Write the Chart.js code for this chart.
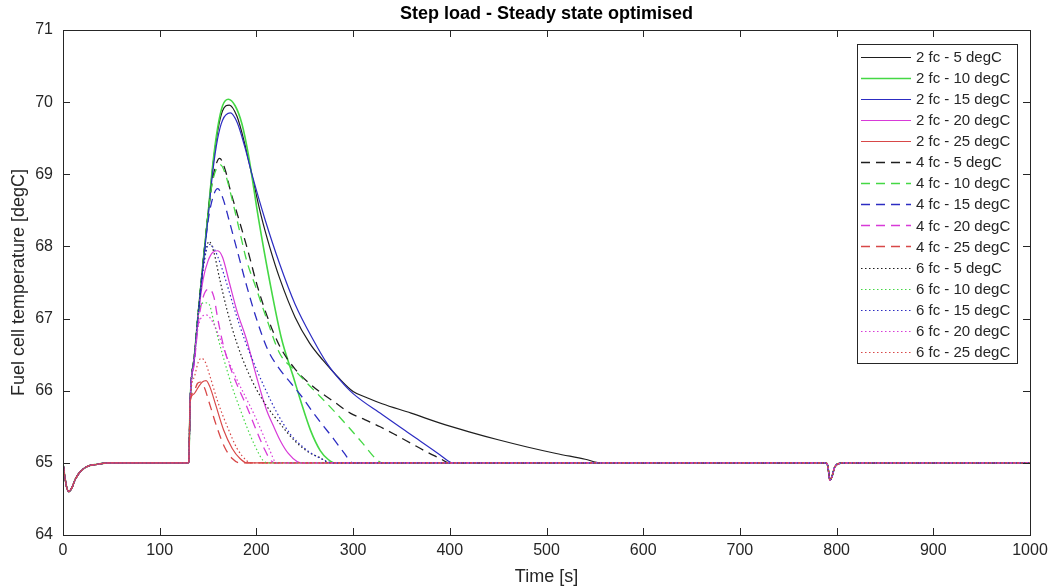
<!DOCTYPE html>
<html>
<head>
<meta charset="utf-8">
<script src="https://cdn.jsdelivr.net/npm/chart.js@4.4.1/dist/chart.umd.min.js"></script>
<style>
  html, body { margin: 0; padding: 0; background: #fff; }
  #wrap { width: 1055px; height: 588px; }
</style>
</head>
<body>
<div id="wrap"><canvas id="temp-chart" width="1055" height="588"></canvas></div>
<script>
// time [s], temperature [degC] pairs
// shared start (initial dip) and shared end (dip at ~790 s)
const headPart = [[0,65],[2,64.8],[4,64.65],[6,64.6],[9,64.65],[13,64.78],[18,64.88],[25,64.95],[35,64.98],[50,65],[130,65]]
const tailPart = [[789,65],[791,64.95],[793,64.76],[795,64.8],[798,64.94],[802,64.99],[810,65],[1000,65]]

// 2 fuel cells
const fc2_5 = [[131.5,65.85],[136,66.5],[140,67.1],[145,67.8],[150,68.45],[155,69.12],[160,69.6],[165,69.88],[172,69.96],[180,69.8],[188,69.42],[196,68.95],[205,68.42],[214,67.98],[224,67.56],[240,67.02],[255,66.66],[269,66.42],[285,66.18],[300,65.99],[315,65.9],[330,65.82],[360,65.69],[390,65.55],[420,65.43],[450,65.32],[480,65.22],[510,65.13],[540,65.05],[556,65]]
const fc2_10 = [[131.5,65.85],[136,66.5],[140,67.1],[145,67.8],[150,68.45],[155,69.15],[160,69.65],[165,69.95],[171,70.04],[178,69.95],[185,69.7],[192,69.25],[202,68.4],[214,67.5],[226,66.72],[238,66.2],[246,65.85],[256,65.45],[266,65.17],[274,65.05],[281,65]]
const fc2_15 = [[131.5,65.85],[136,66.45],[140,67.05],[145,67.75],[150,68.4],[155,69.05],[160,69.5],[165,69.75],[173,69.85],[180,69.72],[188,69.38],[196,68.97],[209,68.37],[224,67.76],[240,67.2],[259,66.7],[273,66.38],[287,66.14],[300,65.96],[330,65.67],[360,65.39],[390,65.11],[398,65.03],[403,65]]
const fc2_20 = [[131.5,65.85],[136,66.5],[140,67.05],[145,67.55],[150,67.8],[155,67.92],[160,67.94],[165,67.85],[172,67.5],[180,67.1],[190,66.7],[200,66.2],[210,65.75],[218,65.5],[225,65.3],[233,65.13],[242,65.02],[248,65]]
const fc2_25 = [[131.5,65.85],[135,65.95],[140,66.05],[144,66.12],[148,66.14],[152,66.05],[158,65.8],[166,65.46],[175,65.2],[183,65.06],[190,65]]

// 4 fuel cells
const fc4_5 = [[131.5,65.85],[136,66.5],[140,67.1],[145,67.8],[150,68.45],[155,68.95],[162,69.22],[168,69.05],[173,68.78],[182,68.37],[191,67.95],[201,67.45],[212,67],[224,66.62],[240,66.3],[255,66.1],[266,65.98],[280,65.85],[297,65.69],[312,65.6],[328,65.5],[345,65.38],[360,65.27],[375,65.16],[390,65.06],[399,65]]
const fc4_10 = [[131.5,65.85],[136,66.5],[140,67.1],[145,67.8],[150,68.45],[155,68.92],[163,69.13],[168,69],[174,68.7],[182,68.25],[190,67.8],[199,67.45],[210,67.02],[224,66.52],[240,66.28],[260,66],[276,65.78],[295,65.5],[310,65.27],[324,65.05],[330,65]]
const fc4_15 = [[131.5,65.85],[136,66.45],[140,67.05],[145,67.75],[150,68.35],[155,68.68],[160,68.8],[165,68.68],[172,68.35],[180,67.95],[190,67.45],[200,67],[212,66.56],[224,66.3],[236,66.1],[248,65.9],[259,65.69],[270,65.5],[280,65.33],[290,65.15],[300,65]]
const fc4_20 = [[131.5,65.85],[136,66.4],[140,66.95],[145,67.3],[151,67.41],[156,67.3],[160,67],[166,66.62],[175,66.25],[182,66.02],[190,65.78],[200,65.45],[208,65.2],[214,65.05],[219,65]]
const fc4_25 = [[131.5,65.85],[135,65.98],[139,66.1],[142,66.12],[146,66.05],[152,65.8],[159,65.5],[167,65.22],[175,65.06],[183,65]]

// 6 fuel cells
const fc6_5 = [[131.5,65.85],[136,66.5],[140,67.1],[145,67.7],[151,68.07],[156,67.92],[162,67.55],[170,67.1],[180,66.65],[190,66.3],[200,66.02],[210,65.8],[224,65.55],[240,65.3],[255,65.14],[266,65.07],[276,65]]
const fc6_10 = [[131.5,65.85],[136,66.5],[140,67.05],[146,67.22],[151,67.2],[156,66.95],[165,66.5],[175,66.05],[183,65.75],[190,65.5],[198,65.25],[207,65.03],[212,65]]
const fc6_15 = [[131.5,65.85],[136,66.5],[140,67.1],[145,67.7],[151,68.03],[157,67.95],[163,67.75],[169,67.5],[178,67.1],[188,66.7],[200,66.3],[210,66],[221,65.7],[235,65.4],[250,65.2],[265,65.07],[280,65]]
const fc6_20 = [[131.5,65.85],[136,66.45],[140,66.9],[148,67.05],[155,66.95],[160,66.8],[170,66.45],[180,66.15],[190,65.88],[197,65.69],[205,65.45],[213,65.2],[221,65]]
const fc6_25 = [[131.5,65.85],[136,66.2],[140,66.4],[143,66.45],[147,66.4],[152,66.2],[160,65.85],[170,65.5],[180,65.2],[190,65.03],[195,65]]

const seriesNames = ['2 fc - 5 degC','2 fc - 10 degC','2 fc - 15 degC','2 fc - 20 degC','2 fc - 25 degC',
  '4 fc - 5 degC','4 fc - 10 degC','4 fc - 15 degC','4 fc - 20 degC','4 fc - 25 degC',
  '6 fc - 5 degC','6 fc - 10 degC','6 fc - 15 degC','6 fc - 20 degC','6 fc - 25 degC']
const seriesValues = [fc2_5, fc2_10, fc2_15, fc2_20, fc2_25, fc4_5, fc4_10, fc4_15, fc4_20, fc4_25, fc6_5, fc6_10, fc6_15, fc6_20, fc6_25]

const xTicks = [0,100,200,300,400,500,600,700,800,900,1000]
const yTicks = [64,65,66,67,68,69,70,71]

// styling
const colours = ['#1e1e1e', '#44d844', '#2c2cc2', '#d83ad8', '#d84848']
const dashes = [[], [9, 6], [1.5, 2.5]]
const widths = [1.2, 1.3, 1.2]

let datasets = []
for (let i = 0; i < seriesValues.length; i++) {
  let grp = Math.floor(i / 5)
  let pts = headPart.concat(seriesValues[i], tailPart)
  datasets.push({
    label: seriesNames[i],
    data: pts.map(p => ({x: p[0], y: p[1]})),
    borderColor: colours[i % 5],
    borderDash: dashes[grp],
    borderWidth: (i == 1) ? 1.6 : widths[grp],
    pointRadius: 0,
    cubicInterpolationMode: 'monotone',
    fill: false,
    order: seriesValues.length - i
  })
}

const axisCol = '#262626'
const fontName = '"Liberation Sans", Arial, Helvetica, sans-serif'

// title over the axes, box round the axes, inward ticks, legend box top right
const matlabLook = {
  id: 'matlabLook',
  afterDatasetsDraw(chart) {
    const ctx = chart.ctx
    const a = chart.chartArea
    const xs = chart.scales.x, ys = chart.scales.y
    ctx.save()
    ctx.fillStyle = '#000'
    ctx.font = 'bold 18px ' + fontName
    ctx.textAlign = 'center'
    ctx.textBaseline = 'middle'
    ctx.fillText('Step load - Steady state optimised', (a.left + a.right) / 2, 14)

    ctx.strokeStyle = axisCol
    ctx.lineWidth = 1
    ctx.setLineDash([])
    ctx.strokeRect(Math.round(a.left) + 0.5, Math.round(a.top) + 0.5, Math.round(a.right - a.left), Math.round(a.bottom - a.top))
    let tl = 7
    ctx.beginPath()
    xTicks.forEach(t => {
      let px = Math.round(xs.getPixelForValue(t)) + 0.5
      ctx.moveTo(px, a.bottom); ctx.lineTo(px, a.bottom - tl)
      ctx.moveTo(px, a.top); ctx.lineTo(px, a.top + tl)
    })
    yTicks.forEach(t => {
      let py = Math.round(ys.getPixelForValue(t)) + 0.5
      ctx.moveTo(a.left, py); ctx.lineTo(a.left + tl, py)
      ctx.moveTo(a.right, py); ctx.lineTo(a.right - tl, py)
    })
    ctx.stroke()

    // legend
    let bx = 857, by = 44, bw = 160, bh = 319
    ctx.fillStyle = '#fff'
    ctx.fillRect(bx, by, bw, bh)
    ctx.strokeStyle = axisCol
    ctx.strokeRect(bx + 0.5, by + 0.5, bw, bh)
    ctx.font = '15px ' + fontName
    ctx.textBaseline = 'middle'
    ctx.textAlign = 'left'
    chart.data.datasets.forEach((ds, i) => {
      let y = 57 + i * 21.05
      ctx.strokeStyle = ds.borderColor
      ctx.lineWidth = ds.borderWidth
      ctx.setLineDash(ds.borderDash)
      ctx.beginPath()
      ctx.moveTo(861, Math.round(y) + 0.5)
      ctx.lineTo(911, Math.round(y) + 0.5)
      ctx.stroke()
      ctx.setLineDash([])
      ctx.fillStyle = axisCol
      ctx.fillText(ds.label, 916, y + 1)
    })
    ctx.restore()
  }
}

new Chart(document.getElementById('temp-chart'), {
  type: 'line',
  data: { datasets: datasets },
  plugins: [matlabLook],
  options: {
    responsive: false,
    animation: false,
    layout: { padding: { top: 30, right: 25, bottom: 0, left: 0 } },
    plugins: {
      legend: { display: false },
      tooltip: { enabled: false },
      title: { display: false }
    },
    scales: {
      x: {
        type: 'linear',
        min: 0, max: 1000,
        afterFit: s => { s.height = 53 },
        afterBuildTicks: s => { s.ticks = xTicks.map(v => ({value: v})) },
        grid: { display: false, drawTicks: false },
        border: { display: false },
        ticks: { color: axisCol, font: { family: fontName, size: 16 }, padding: 6, maxRotation: 0, autoSkip: false, callback: v => String(v) },
        title: { display: true, text: 'Time [s]', color: axisCol, font: { family: fontName, size: 18 }, padding: { top: 0, bottom: 0 } }
      },
      y: {
        min: 64, max: 71,
        afterFit: s => { s.width = 63 },
        afterBuildTicks: s => { s.ticks = yTicks.map(v => ({value: v})) },
        grid: { display: false, drawTicks: false },
        border: { display: false },
        ticks: { color: axisCol, font: { family: fontName, size: 16 }, padding: 10, callback: v => String(v) },
        title: { display: true, text: 'Fuel cell temperature [degC]', color: axisCol, font: { family: fontName, size: 18 }, padding: { top: 8, bottom: 0 } }
      }
    }
  }
});
</script>
</body>
</html>
